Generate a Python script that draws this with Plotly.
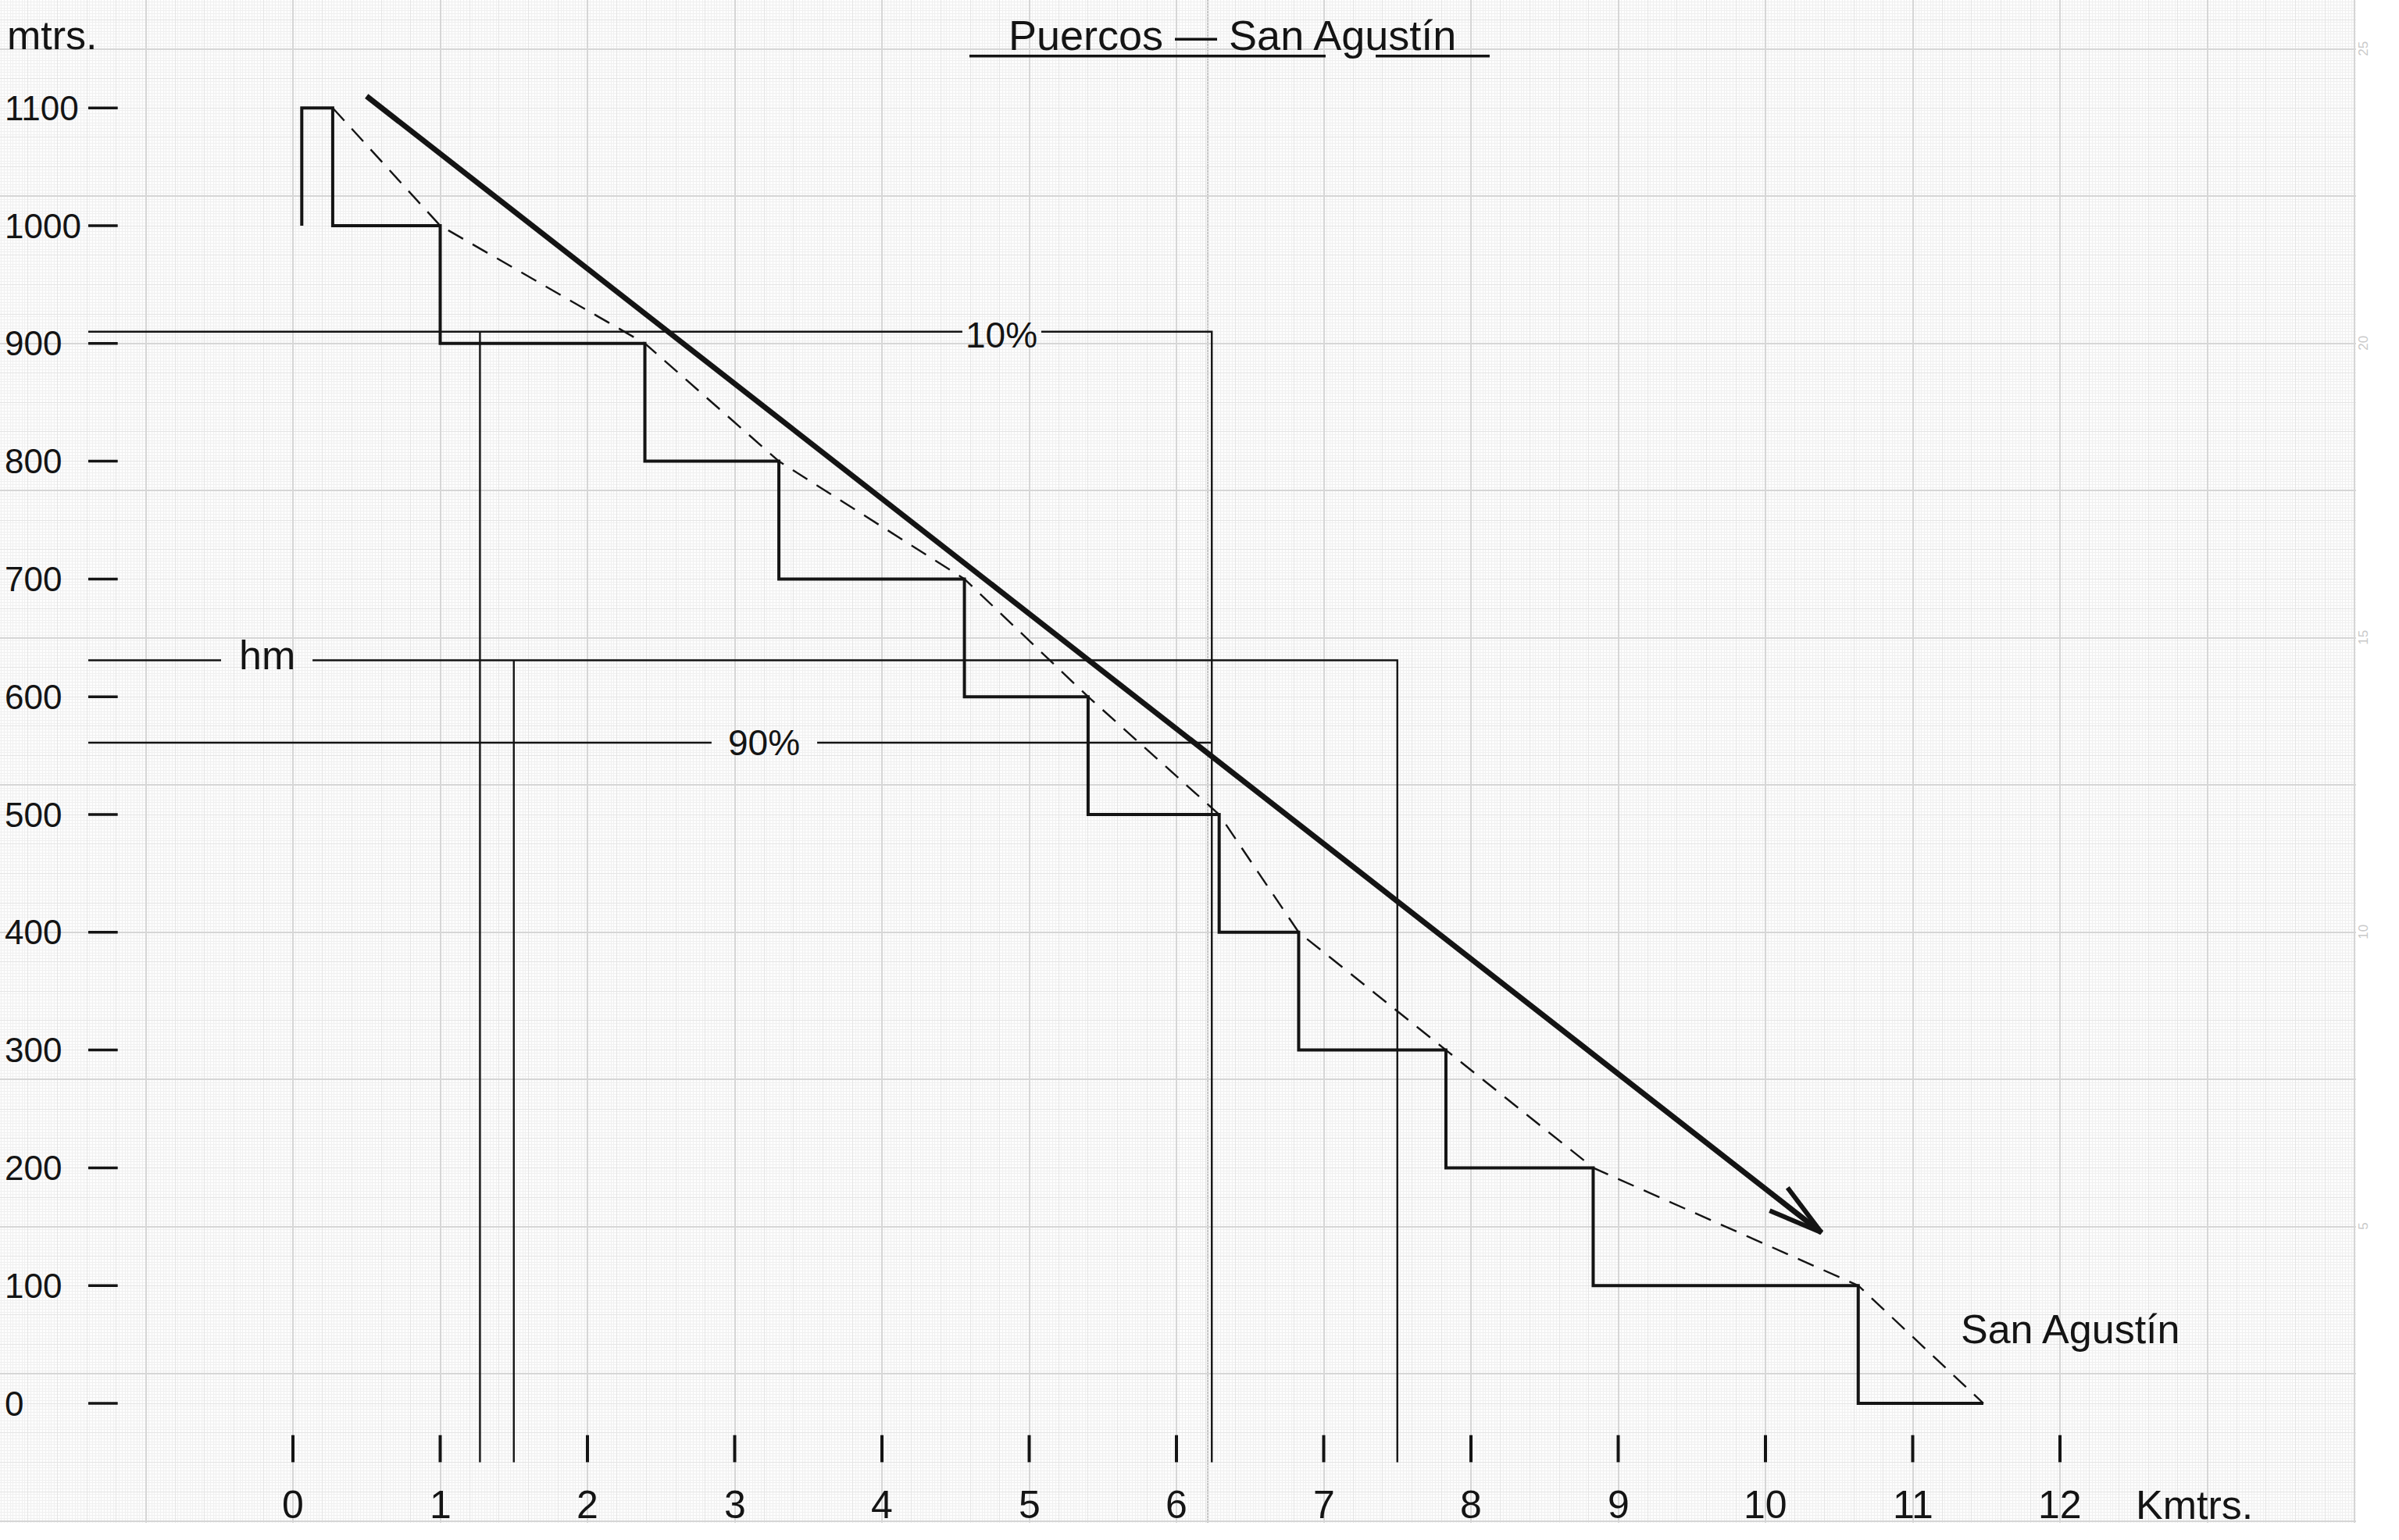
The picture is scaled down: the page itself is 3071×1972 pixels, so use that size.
import math
import plotly.graph_objects as go

# ---------------- data ----------------
# Distance (km) at which the river crosses each contour, and that contour (m)
dist_km = [0.27, 1.00, 2.39, 3.30, 4.56, 5.40, 6.29, 6.83, 7.83, 8.83, 10.63, 11.48]
elev_m = [1100, 1000, 900, 800, 700, 600, 500, 400, 300, 200, 100, 0]
source_km = 0.06          # head of the stepped profile
source_base_m = 1000

# Mean-slope arrow (km, m)
arrow_km = [0.50, 10.38]
arrow_m = [1110, 145]

# Reference levels (m) and the distances (km) where their verticals drop
level_10_m = 910
level_hm_m = 631
level_90_m = 561
drop_10_left_km = 1.27
drop_hm_left_km = 1.50
drop_10_90_right_km = 6.24
drop_hm_right_km = 7.50

# Axis ticks
x_ticks = [0, 1, 2, 3, 4, 5, 6, 7, 8, 9, 10, 11, 12]
y_ticks = [0, 100, 200, 300, 400, 500, 600, 700, 800, 900, 1000, 1100]
edge_marks = ["25", "20", "15", "10", "5"]
edge_marks_m = [1150, 900, 650, 400, 150]

# ---------------- page geometry ----------------
FIG_W, FIG_H = 3071, 1972
MARGIN_R, MARGIN_B = 55, 22
PLOT_W, PLOT_H = FIG_W - MARGIN_R, FIG_H - MARGIN_B
KM0_PX = 375          # pixel column of km 0
M0_PX = 1797          # pixel row of 0 m
PX_PER_KM = 188.5     # 5 cm of graph paper per km
PX_PER_M = 1.508      # 4 cm of graph paper per 100 m
x_range = [-KM0_PX / PX_PER_KM, (PLOT_W - KM0_PX) / PX_PER_KM]
y_range = [-(PLOT_H - M0_PX) / PX_PER_M, M0_PX / PX_PER_M]

INK = "#141414"
WORD_FONT = "Liberation Sans, Arial, sans-serif"
NUM_FONT = "Liberation Sans Narrow, Arial Narrow, Liberation Sans, sans-serif"
FS = 52

# layout positions (data units)
LINE_START_KM = -1.39
YTICK_END_KM = -1.19
YLABEL_KM = -1.968
XTICK_TOP_M, XTICK_BOT_M = -27, -50
XLABEL_M = -86

fig = go.Figure()


def seg(xs, ys, width, dash=None, color=INK):
    fig.add_trace(go.Scatter(
        x=xs, y=ys, mode="lines", hoverinfo="skip",
        line=dict(color=color, width=width, dash=dash),
    ))


# stepped contour-band profile
step_x = [source_km, source_km] + dist_km
step_y = [source_base_m] + elev_m + [elev_m[-1]]
fig.add_trace(go.Scatter(
    x=step_x, y=step_y, mode="lines", line_shape="hv", hoverinfo="skip",
    line=dict(color=INK, width=4),
))

# smoothed profile through the contour crossings
seg(dist_km, elev_m, 2.4, dash="22px,14px")

# reference lines with gaps for their labels
gap_10 = (4.546, 5.082)
gap_hm = (-0.488, 0.133)
gap_90 = (2.843, 3.560)
seg([LINE_START_KM, gap_10[0], None, gap_10[1], drop_10_90_right_km, drop_10_90_right_km],
    [level_10_m, level_10_m, None, level_10_m, level_10_m, XTICK_BOT_M], 2.4)
seg([LINE_START_KM, gap_hm[0], None, gap_hm[1], drop_hm_right_km, drop_hm_right_km],
    [level_hm_m, level_hm_m, None, level_hm_m, level_hm_m, XTICK_BOT_M], 2.4)
seg([LINE_START_KM, gap_90[0], None, gap_90[1], drop_10_90_right_km],
    [level_90_m, level_90_m, None, level_90_m, level_90_m], 2.4)
seg([drop_10_left_km, drop_10_left_km], [level_10_m, XTICK_BOT_M], 2.4)
seg([drop_hm_left_km, drop_hm_left_km], [level_hm_m, XTICK_BOT_M], 2.4)

# mean-slope arrow with an open head
seg(arrow_km, arrow_m, 7)
dx = (arrow_km[1] - arrow_km[0]) * PX_PER_KM
dy = (arrow_m[1] - arrow_m[0]) * PX_PER_M
ang = math.atan2(dy, dx)
head_len, spread = 72, math.radians(15)
hx, hy = [], []
for s in (1, -1):
    a = ang + math.pi + s * spread
    hx.append(arrow_km[1] + head_len * math.cos(a) / PX_PER_KM)
    hy.append(arrow_m[1] + head_len * math.sin(a) / PX_PER_M)
seg([hx[0], arrow_km[1], hx[1]], [hy[0], arrow_m[1], hy[1]], 6)

# axis tick marks
tx, ty = [], []
for k in x_ticks:
    tx += [k, k, None]
    ty += [XTICK_TOP_M, XTICK_BOT_M, None]
seg(tx, ty, 4)
yx, yy = [], []
for v in y_ticks:
    yx += [LINE_START_KM, YTICK_END_KM, None]
    yy += [v, v, None]
seg(yx, yy, 3.5)

# title underline
seg([4.594, 7.013, None, 7.353, 8.127], [1144, 1144, None, 1144, 1144], 3.5)

# invisible trace so the overlay grid axes are drawn
fig.add_trace(go.Scatter(x=[x_range[0]], y=[y_range[0]], xaxis="x2", yaxis="y2",
                         mode="markers", marker=dict(opacity=0), hoverinfo="skip"))

ann = []


def text(x, y, s, font=WORD_FONT, size=FS, xanchor="center", color=INK, **kw):
    ann.append(dict(x=x, y=y, xref=kw.pop("xref", "x"), yref=kw.pop("yref", "y"),
                    text=s, showarrow=False, xanchor=xanchor, yanchor="middle",
                    font=dict(family=font, size=size, color=color), **kw))


for k in x_ticks:
    text(k, XLABEL_M, str(k), font=NUM_FONT, size=50)
for v in y_ticks:
    text(YLABEL_KM, v, str(v), font=NUM_FONT, size=44, xanchor="left")

text(12.91, XLABEL_M, "Kmtrs.")
text(-1.952, 1162, "mtrs.", xanchor="left")
text(6.377, 1162, "Puercos — San Agustín", size=54)
text(12.07, 63, "San Agustín")
text(sum(gap_10) / 2, level_10_m - 3, "10%", font=NUM_FONT, size=46)
text(sum(gap_hm) / 2, level_hm_m + 4, "hm")
text(sum(gap_90) / 2, level_90_m, "90%", font=NUM_FONT, size=46)

# printed graph-paper edge numbers
for s, v in zip(edge_marks, edge_marks_m):
    text(3026 / PLOT_W, v, s, font=WORD_FONT, size=17, color="#c9c9c9",
         xref="paper", textangle=-90)

# seam between the two graph-paper sheets: paler strip and its shadow edge
SEAM_L_KM, SEAM_R_KM = 5.95, 6.195
fig.add_shape(type="rect", xref="x", yref="paper", x0=SEAM_L_KM, x1=SEAM_R_KM,
              y0=0, y1=1, fillcolor="rgba(255,255,255,0.75)", line_width=0,
              layer="between")
fig.add_shape(type="line", xref="x", yref="paper", x0=SEAM_R_KM + 0.02,
              x1=SEAM_R_KM + 0.02, y0=0, y1=1,
              line=dict(color="rgba(185,185,185,0.8)", width=3), layer="between")

fig.update_layout(
    width=FIG_W, height=FIG_H,
    margin=dict(l=0, r=MARGIN_R, t=0, b=MARGIN_B, pad=0),
    paper_bgcolor="#ffffff", plot_bgcolor="#fdfdfd",
    showlegend=False,
    annotations=ann,
    xaxis=dict(range=x_range, showgrid=True, tick0=0, dtick=0.2,
               gridcolor="#e5e5e5", gridwidth=1,
               minor=dict(tick0=0, dtick=0.02, showgrid=True,
                          gridcolor="#f0f0f0", gridwidth=1),
               showticklabels=False, ticks="", zeroline=False, showline=False),
    yaxis=dict(range=y_range, showgrid=True, tick0=0, dtick=25,
               gridcolor="#e5e5e5", gridwidth=1,
               minor=dict(tick0=0, dtick=2.5, showgrid=True,
                          gridcolor="#f0f0f0", gridwidth=1),
               showticklabels=False, ticks="", zeroline=False, showline=False),
    xaxis2=dict(range=x_range, overlaying="x", anchor="y2", showgrid=True,
                tick0=0, dtick=1, gridcolor="#d6d6d6", gridwidth=2,
                showticklabels=False, ticks="", zeroline=False, showline=False),
    yaxis2=dict(range=y_range, overlaying="y", anchor="x2", showgrid=True,
                tick0=25, dtick=125, gridcolor="#d6d6d6", gridwidth=2,
                showticklabels=False, ticks="", zeroline=False, showline=False),
)

fig.write_html("out.html")
